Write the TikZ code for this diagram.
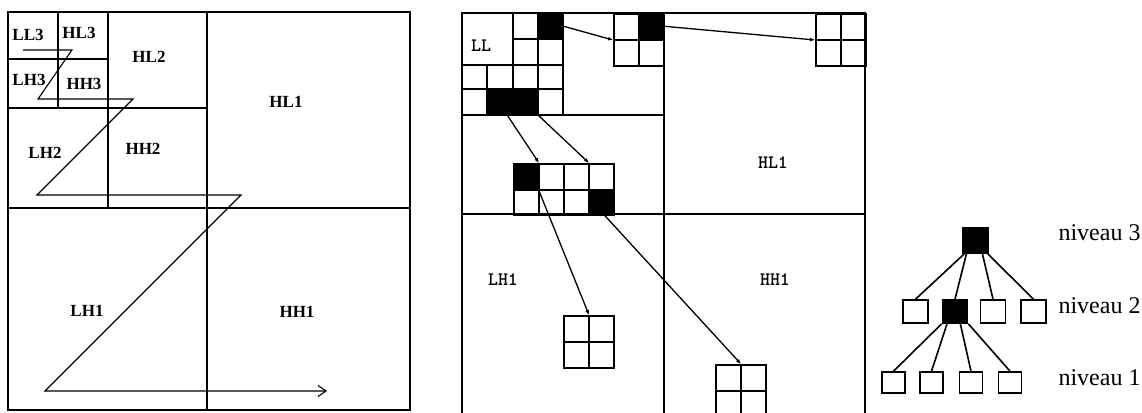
\documentclass[tikz,border=0pt]{standalone}
\usepackage{fontspec}
\setmainfont{Liberation Serif}
\usepackage{tikz}
\usetikzlibrary{arrows.meta, positioning, calc}

\tikzset{
  band/.style={line width=2.8pt},
  scan/.style={line width=1.1pt, -{Straight Barb[length=8pt,width=11pt]}},
  lbl/.style={font=\fontsize{17}{17}\selectfont\bfseries},
  mlbl/.style={font=\ttfamily\bfseries\fontsize{19}{19}\selectfont},
  lvl/.style={font=\fontsize{24}{24}\selectfont, anchor=base west},
  cell/.style={draw, fill=black, inner sep=0pt, minimum width=25pt, minimum height=26pt, anchor=north west},
  quad/.style={draw, line width=2pt, inner sep=0pt, minimum width=50pt, minimum height=52pt, anchor=north west,
    path picture={\draw[line width=2pt] (path picture bounding box.north) -- (path picture bounding box.south)
      (path picture bounding box.west) -- (path picture bounding box.east);}},
  ptr/.style={line width=1.3pt, -{Latex[length=5pt,width=4pt]}},
  wbox/.style={draw, line width=1.6pt, inner sep=0pt, minimum width=25pt, minimum height=23pt},
  bbox/.style={wbox, fill=black},
  leaf/.style={wbox, minimum width=23pt, minimum height=21pt},
  link/.style={line width=1.6pt}
}

\begin{document}
\begin{tikzpicture}[x=1pt, y=-1pt]
    \clip (0,0) rectangle (1142,412);
    % Left: subbands
    \draw[band] (8,12) rectangle (410,410);
    \draw[band] (207,12) -- (207,410) (8,208) -- (410,208);
    \draw[band] (108,12) -- (108,208) (8,108) -- (207,108);
    \draw[band] (58,12) -- (58,108) (8,59) -- (108,59);
    \node[lbl] (LL3) at (28,35) {LL3};
    \node[lbl] (HL3) at (79,33) {HL3};
    \node[lbl] (LH3) at (29,80) {LH3};
    \node[lbl] (HH3) at (84,84) {HH3};
    \node[lbl] (HL2) at (149,57) {HL2};
    \node[lbl] (LH2) at (45,153) {LH2};
    \node[lbl] (HH2) at (143,149) {HH2};
    \node[lbl] (HL1) at (286,102) {HL1};
    \node[lbl] (LH1) at (87,311) {LH1};
    \node[lbl] (HH1) at (297,312) {HH1};
    % Scan order
    \coordinate (z0) at (23,50);
    \coordinate (z1) at (72,50);
    \coordinate (z2) at (38,99);
    \coordinate (z3) at (133,99);
    \coordinate (z4) at (37,195);
    \coordinate (z5) at (241,195);
    \coordinate (z6) at (45,391);
    \coordinate (z7) at (327,391);
    \draw[scan] (z0) -- (z1) -- (z2) -- (z3) -- (z4) -- (z5) -- (z6) -- (z7);

    % Middle: zerotree
    \begin{scope}[line width=2pt]
      \draw (462,13) rectangle (865,416);
      \draw (663.5,13) -- (663.5,416) (462,214) -- (865,214);
      \draw (462,115) -- (663.5,115) (563,13) -- (563,115);
      \draw (513,13) -- (513,115) (538,13) -- (538,115) (487,65) -- (487,115);
      \draw (513,39) -- (563,39) (462,65) -- (563,65) (462,89) -- (563,89);
    \end{scope}
    \node[mlbl] (LL) at (481,46) {LL};
    \node[mlbl] (mHL1) at (773,163) {HL1};
    \node[mlbl] (mLH1) at (503,280) {LH1};
    \node[mlbl] (mHH1) at (775,280) {HH1};
    \node[cell] (bA) at (538,13) {};
    \node[cell] (bC1) at (487,89) {};
    \node[cell] (bC2) at (513,89) {};
    \node[quad] (qHL2) at (613,13) {};
    \node[cell] (bB) at (638,13) {};
    \node[quad] (qHL1) at (815,13) {};
    \node[quad, minimum height=51pt] (qLH2) at (513,163) {};
    \node[quad, minimum height=51pt] (qHH2) at (563,163) {};
    \node[cell] (bD1) at (513,163) {};
    \node[cell, minimum height=25pt] (bD2) at (588,189) {};
    \node[quad] (qLH1) at (563,315) {};
    \node[quad] (qHH1) at (715,364) {};
    \draw[ptr] (bA.east) -- (qHL2.west);
    \draw[ptr] (bB.east) -- (qHL1.west);
    \draw[ptr] ([xshift=-5pt]bC1.south east) -- (qLH2.north);
    \draw[ptr] (bC2.south east) -- (qHH2.north);
    \draw[ptr] (bD1.south east) -- (qLH1.north);
    \draw[ptr] ([xshift=3pt]bD2.south) -- (qHH1.north);

    % Right: tree
    \node[bbox, minimum height=25pt] (t3) at (975.5,240.5) {};
    \node[wbox] (t2a) at (915.5,311.5) {};
    \node[bbox] (t2b) at (955,311.5) {};
    \node[wbox] (t2c) at (993,311.5) {};
    \node[wbox] (t2d) at (1033.5,311.5) {};
    \node[leaf] (t1a) at (893.5,382.5) {};
    \node[leaf] (t1b) at (931.5,382.5) {};
    \node[leaf] (t1c) at (971,382.5) {};
    \node[leaf] (t1d) at (1010,382.5) {};
    \draw[link] ($(t3.south west)!0.08!(t3.south east)$) -- (t2a.north);
    \draw[link] ($(t3.south west)!0.16!(t3.south east)$) -- (t2b.north);
    \draw[link] ($(t3.south west)!0.76!(t3.south east)$) -- (t2c.north);
    \draw[link] ($(t3.south west)!0.96!(t3.south east)$) -- (t2d.north);
    \draw[link] (t2b.south west) -- (t1a.north);
    \draw[link] ($(t2b.south west)!0.2!(t2b.south east)$) -- (t1b.north);
    \draw[link] ($(t2b.south west)!0.7!(t2b.south east)$) -- (t1c.north);
    \draw[link] (t2b.south east) -- (t1d.north);
    \node[lvl] (n3) at (1055,240) {niveau 3};
    \node[lvl] (n2) at (1055,313) {niveau 2};
    \node[lvl] (n1) at (1055,385) {niveau 1};
\end{tikzpicture}
\end{document}
